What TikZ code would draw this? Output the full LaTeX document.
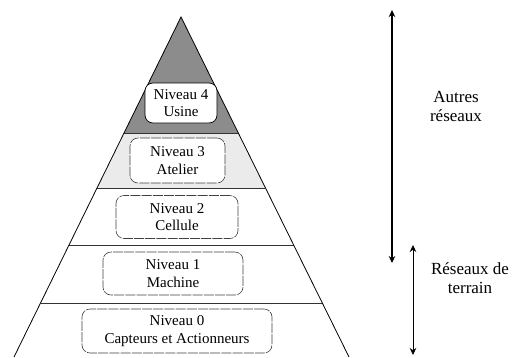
\documentclass[tikz,border=0pt]{standalone}
\usepackage{fontspec}
\setmainfont{Liberation Serif}
\usetikzlibrary{arrows.meta}
\begin{document}
\begin{tikzpicture}[x=1pt,y=-1pt,
  lvlbox/.style={draw=black!75, line width=0.6pt, rounded corners=8pt, fill=white,
    dash pattern=on 10pt off 1.2pt, align=center, inner sep=0pt,
    font=\fontsize{15}{17.5}\selectfont},
  toplvlbox/.style={lvlbox, solid, draw=black, line width=0.7pt},
  sidelbl/.style={align=center, font=\fontsize{17}{19}\selectfont, inner sep=0pt},
  edge/.style={line width=0.8pt, black},
  sep/.style={line width=0.5pt, black!80},
  span/.style={line width=1.1pt, {Stealth[length=7pt,width=6.5pt]}-{Stealth[length=7pt,width=6.5pt]}}
]
\useasboundingbox (0,0) rectangle (516,357);
% pyramid corners
\coordinate (apex) at (181,17);
\coordinate (bl) at (14,357);
\coordinate (br) at (349,357);
% level boundaries on the edges
\path (apex) -- (bl) coordinate[pos=0.3412] (a1) coordinate[pos=0.5029] (a2) coordinate[pos=0.6706] (a3) coordinate[pos=0.8412] (a4);
\path (apex) -- (br) coordinate[pos=0.3412] (b1) coordinate[pos=0.5029] (b2) coordinate[pos=0.6706] (b3) coordinate[pos=0.8412] (b4);
% fills
\fill[black!45] (apex) -- (a1) -- (b1) -- cycle;
\fill[black!8] (a1) -- (b1) -- (b2) -- (a2) -- cycle;
% separators
\draw[sep] (a1) -- (b1);
\draw[sep] (a2) -- (b2);
\draw[sep] (a3) -- (b3);
\draw[sep] (a4) -- (b4);
% edges
\draw[edge] (bl) -- (apex) -- (br);
% level boxes
\node[toplvlbox, minimum width=72pt, minimum height=40pt] (n4) at (181,103) {Niveau 4\\Usine};
\node[lvlbox, minimum width=95pt, minimum height=45pt] (n3) at (177.5,160.5) {Niveau 3\\Atelier};
\node[lvlbox, minimum width=122pt, minimum height=43pt] (n2) at (177,217) {Niveau 2\\Cellule};
\node[lvlbox, minimum width=140pt, minimum height=43pt] (n1) at (173,273.5) {Niveau 1\\Machine};
\node[lvlbox, minimum width=190pt, minimum height=44pt] (n0) at (177,331) {Niveau 0\\Capteurs et Actionneurs};
% side arrows
\coordinate (ltop) at (392,10);
\coordinate (lbot) at (392,263);
\coordinate (stop) at (413,245);
\coordinate (sbot) at (413,355);
\draw[span] (ltop) -- (lbot);
\draw[span, line width=0.8pt] (stop) -- (sbot);
% side labels
\node[sidelbl] (autres) at (456,106) {Autres\\réseaux};
\node[sidelbl] (terrain) at (470,278) {Réseaux de\\terrain};
\end{tikzpicture}
\end{document}
